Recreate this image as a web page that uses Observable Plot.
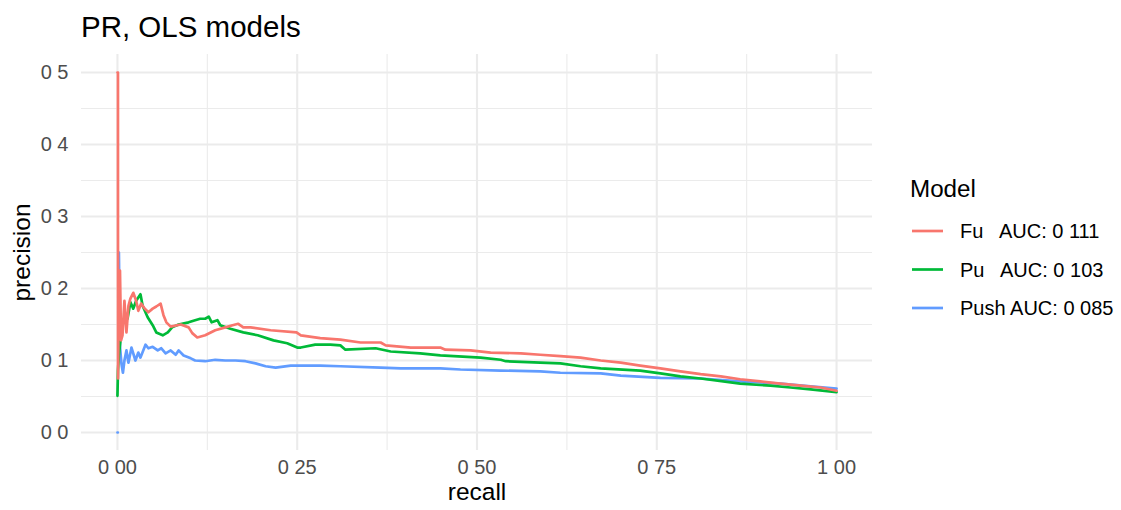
<!DOCTYPE html>
<html>
<head>
<meta charset="utf-8">
<script src="https://cdn.jsdelivr.net/npm/d3@7"></script>
<script src="https://cdn.jsdelivr.net/npm/@observablehq/plot@0.6"></script>
<style>
  html, body { margin: 0; padding: 0; background: #ffffff; }
  #fig { position: relative; width: 1121px; height: 510px; background: #ffffff;
         font-family: "Liberation Sans", Arial, Helvetica, sans-serif; }
  #title { position: absolute; left: 81px; top: 12px; font-size: 29.5px; line-height: 29.5px; color: #000; }
  #chart { position: absolute; left: 0; top: 45px; }
  #legend { position: absolute; left: 880px; top: 0; }
</style>
</head>
<body>
<div id="fig">
  <div id="title"></div>
  <div id="chart"></div>
  <div id="legend"></div>
</div>
<script>
// Chart text
const chartTitle = "PR, OLS models";
const xTitle = "recall";
const yTitle = "precision";
const legendTitle = "Model";

// Series: model names, colours and legend labels
const models = ["Fu", "Pu", "Push"];
const modelColors = ["#F8766D", "#00BA38", "#619CFF"];
const legendLabels = ["Fu   AUC: 0 111", "Pu   AUC: 0 103", "Push AUC: 0 085"];

// Axis ticks and their printed labels
const xTicks = [0, 0.25, 0.5, 0.75, 1];
const xTickLabels = ["0 00", "0 25", "0 50", "0 75", "1 00"];
const xMinor = [0.125, 0.375, 0.625, 0.875];
const yTicks = [0, 0.1, 0.2, 0.3, 0.4, 0.5];
const yTickLabels = ["0 0", "0 1", "0 2", "0 3", "0 4", "0 5"];
const yMinor = [0.05, 0.15, 0.25, 0.35, 0.45];

// Precision-recall curves, [recall, precision]
const fuCurve = [
  [0, 0.5], [0.0007, 0.5], [0.0008, 0.075], [0.002, 0.218], [0.0035, 0.225], [0.005, 0.128],
  [0.007, 0.135], [0.0097, 0.183], [0.0125, 0.139], [0.0153, 0.176], [0.018, 0.186], [0.022, 0.194],
  [0.026, 0.183], [0.029, 0.169], [0.033, 0.179], [0.038, 0.172], [0.043, 0.167], [0.049, 0.172],
  [0.054, 0.175], [0.060, 0.179], [0.064, 0.163], [0.068, 0.153], [0.074, 0.147], [0.088, 0.15],
  [0.099, 0.146], [0.104, 0.138], [0.111, 0.132], [0.122, 0.135], [0.136, 0.142], [0.150, 0.146],
  [0.160, 0.149], [0.168, 0.151], [0.175, 0.146], [0.185, 0.146], [0.213, 0.142], [0.249, 0.139],
  [0.255, 0.135], [0.282, 0.131], [0.31, 0.129], [0.338, 0.125], [0.366, 0.125], [0.373, 0.121],
  [0.408, 0.118], [0.449, 0.118], [0.456, 0.115], [0.491, 0.114], [0.519, 0.111], [0.561, 0.11],
  [0.588, 0.108], [0.616, 0.106], [0.644, 0.104], [0.672, 0.1], [0.7, 0.097], [0.727, 0.093],
  [0.755, 0.089], [0.783, 0.085], [0.811, 0.081], [0.839, 0.078], [0.866, 0.074], [0.894, 0.071],
  [0.922, 0.068], [0.95, 0.065], [0.978, 0.0625], [1.0, 0.058]
];
const puCurve = [
  [0, 0.051], [0.0007, 0.086], [0.002, 0.107], [0.0042, 0.128], [0.007, 0.149], [0.011, 0.165],
  [0.014, 0.158], [0.018, 0.181], [0.022, 0.172], [0.026, 0.183], [0.032, 0.192], [0.035, 0.176],
  [0.042, 0.16], [0.049, 0.149], [0.054, 0.139], [0.063, 0.135], [0.07, 0.139], [0.076, 0.146],
  [0.085, 0.15], [0.099, 0.153], [0.108, 0.156], [0.115, 0.158], [0.122, 0.158], [0.127, 0.161],
  [0.131, 0.153], [0.139, 0.156], [0.143, 0.149], [0.157, 0.144], [0.175, 0.139], [0.195, 0.135],
  [0.217, 0.128], [0.236, 0.124], [0.25, 0.118], [0.255, 0.118], [0.275, 0.122], [0.296, 0.122],
  [0.31, 0.121], [0.317, 0.115], [0.359, 0.117], [0.38, 0.1125], [0.421, 0.11], [0.449, 0.107],
  [0.505, 0.104], [0.533, 0.101], [0.54, 0.099], [0.588, 0.097], [0.616, 0.096], [0.644, 0.092],
  [0.672, 0.089], [0.727, 0.086], [0.755, 0.082], [0.783, 0.078], [0.811, 0.075], [0.866, 0.068],
  [0.908, 0.065], [0.936, 0.0625], [0.964, 0.06], [1.0, 0.056]
];
const pushCurve = [
  [0, 0], [0.0005, 0], [0.001, NaN], [0.002, 0.25], [0.0035, 0.12], [0.0056, 0.095],
  [0.0076, 0.083], [0.0097, 0.1], [0.0125, 0.114], [0.0153, 0.097], [0.0195, 0.118], [0.025, 0.1],
  [0.029, 0.111], [0.032, 0.104], [0.039, 0.122], [0.043, 0.117], [0.049, 0.119], [0.056, 0.114],
  [0.061, 0.117], [0.067, 0.11], [0.074, 0.114], [0.081, 0.108], [0.085, 0.114], [0.092, 0.107],
  [0.102, 0.103], [0.108, 0.1], [0.122, 0.099], [0.136, 0.101], [0.15, 0.1], [0.164, 0.1],
  [0.178, 0.099], [0.192, 0.096], [0.206, 0.092], [0.22, 0.09], [0.241, 0.093], [0.282, 0.093],
  [0.31, 0.092], [0.366, 0.09], [0.394, 0.089], [0.449, 0.089], [0.477, 0.0875], [0.533, 0.086],
  [0.588, 0.085], [0.616, 0.083], [0.672, 0.082], [0.7, 0.079], [0.755, 0.076], [0.811, 0.075],
  [0.866, 0.071], [0.922, 0.068], [0.964, 0.064], [1.0, 0.061]
];

// Long table for the line mark; Push is drawn first so the other two sit on top
const curves = {Fu: fuCurve, Pu: puCurve, Push: pushCurve};
const drawOrder = ["Push", "Pu", "Fu"];
const rows = drawOrder.flatMap((model) =>
  curves[model].map(([recall, precision]) => ({model, recall, precision}))
);

const grid = "#EBEBEB";
const tickColor = "#4D4D4D";
const fontFamily = '"Liberation Sans", Arial, Helvetica, sans-serif';

document.getElementById("title").textContent = chartTitle;

const chart = Plot.plot({
  width: 880,
  height: 465,
  marginTop: 9,
  marginBottom: 60,
  marginLeft: 81,
  marginRight: 8,
  style: {fontFamily, background: "#ffffff", overflow: "visible"},
  x: {domain: [-0.05, 1.05]},
  y: {domain: [-0.025, 0.525]},
  color: {domain: models, range: modelColors},
  marks: [
    Plot.gridX(xMinor, {stroke: grid, strokeOpacity: 1, strokeWidth: 1.1}),
    Plot.gridY(yMinor, {stroke: grid, strokeOpacity: 1, strokeWidth: 1.1}),
    Plot.gridX(xTicks, {stroke: grid, strokeOpacity: 1, strokeWidth: 2.1}),
    Plot.gridY(yTicks, {stroke: grid, strokeOpacity: 1, strokeWidth: 2.1}),
    Plot.axisX(xTicks, {
      tickSize: 0, tickPadding: 9, fontSize: 20, color: tickColor, label: null,
      tickFormat: (d) => xTickLabels[xTicks.indexOf(d)]
    }),
    Plot.axisY(yTicks, {
      tickSize: 0, tickPadding: 13, fontSize: 20, color: tickColor, label: null,
      tickFormat: (d) => yTickLabels[yTicks.indexOf(d)]
    }),
    Plot.line(rows, {x: "recall", y: "precision", z: "model", stroke: "model", strokeWidth: 2.7}),
    Plot.text([xTitle], {frameAnchor: "bottom", dy: 42, fontSize: 24.5, fill: "#000",
      textAnchor: "middle", lineAnchor: "middle"}),
    Plot.text([yTitle], {frameAnchor: "left", dx: -59, rotate: -90, fontSize: 24.5, fill: "#000",
      textAnchor: "middle", lineAnchor: "middle"})
  ]
});
document.getElementById("chart").appendChild(chart);

// Legend with line keys, coloured from the chart's own scale
const color = chart.scale("color");
const legendSvg = d3.select("#legend").append("svg")
  .attr("width", 241).attr("height", 510)
  .style("font-family", fontFamily);
legendSvg.append("text")
  .attr("x", 30).attr("y", 197)
  .attr("font-size", 24.2).attr("fill", "#000")
  .text(legendTitle);
const keys = legendSvg.selectAll("g.key").data(models).join("g")
  .attr("class", "key")
  .attr("transform", (d, i) => `translate(0,${231 + i * 38.5})`);
keys.append("line")
  .attr("x1", 32).attr("x2", 63)
  .attr("stroke", (d) => color.apply(d))
  .attr("stroke-width", 2.7);
keys.append("text")
  .attr("x", 80).attr("dy", "0.35em")
  .attr("font-size", 20).attr("fill", "#000")
  .style("white-space", "pre")
  .text((d, i) => legendLabels[i]);
</script>
</body>
</html>
